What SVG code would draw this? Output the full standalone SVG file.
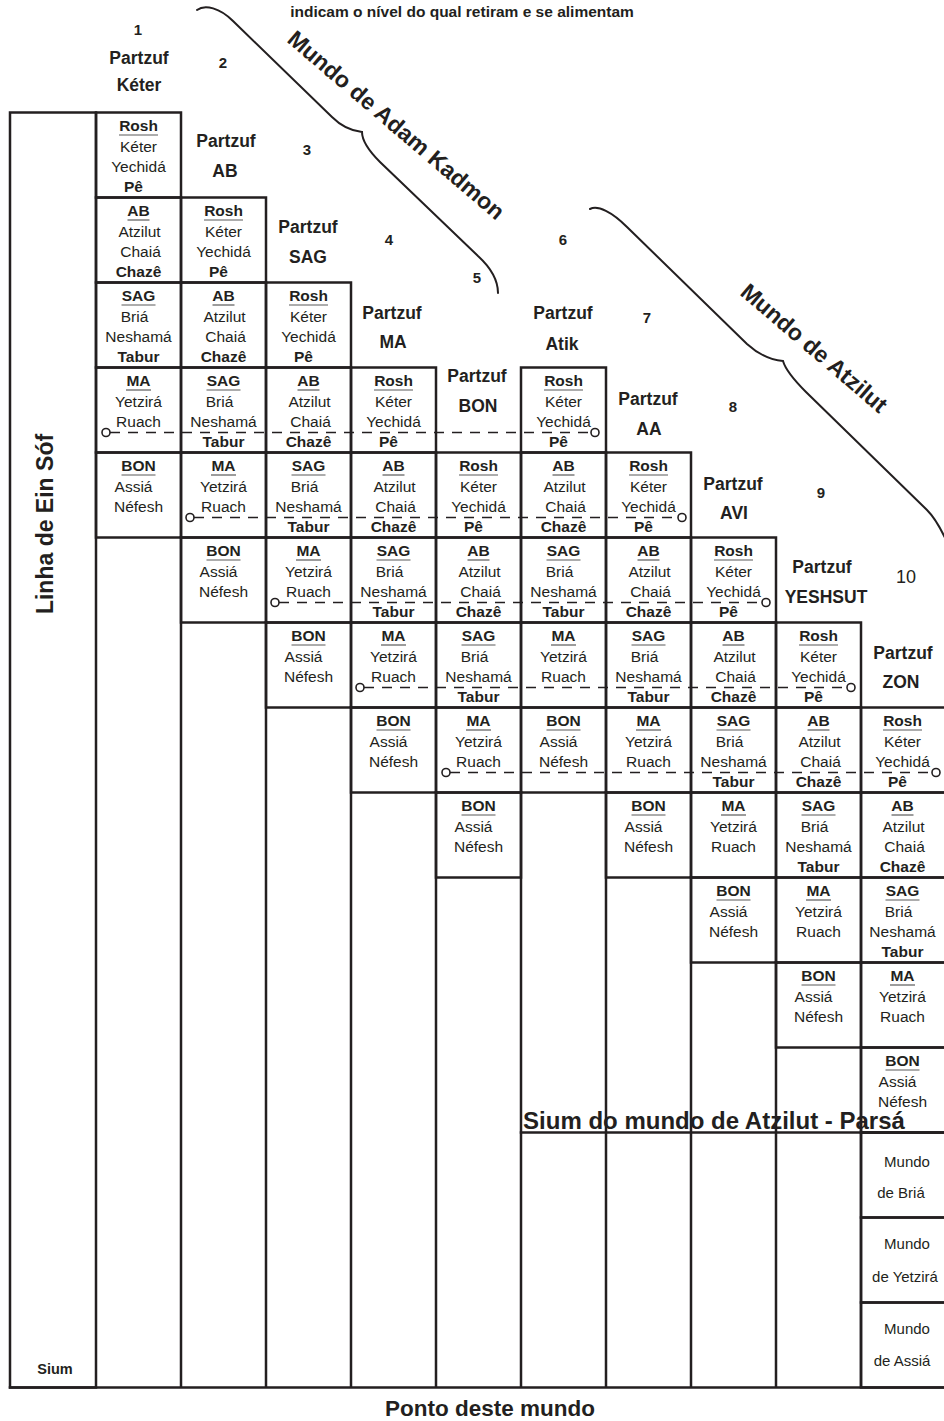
<svg xmlns="http://www.w3.org/2000/svg" width="944" height="1421" viewBox="0 0 944 1421">
<style>
.cell{fill:none;stroke:#231f20;stroke-width:2.5}
.g{fill:none;stroke:#231f20;stroke-width:2.5;stroke-linecap:square}
.ul{fill:none;stroke:#5a5a5a;stroke-width:1.2}
.dash{fill:none;stroke:#231f20;stroke-width:1.7;stroke-dasharray:10 8}
.end{fill:#fff;stroke:#231f20;stroke-width:1.6}
.brace{fill:none;stroke:#231f20;stroke-width:2;stroke-linecap:round}
text{font-family:"Liberation Sans",Arial,Helvetica,sans-serif;font-size:15.5px;fill:#231f20;text-anchor:middle}
.b{font-weight:bold}
.lbl{font-weight:bold;font-size:17.5px}
.num{font-weight:bold;font-size:15px}
.big{font-weight:bold;font-size:23px}
.w{font-size:15px}
</style>
<rect width="944" height="1421" fill="#fff"/>

<!-- heading line -->
<text class="b" x="462" y="17" style="font-size:15.5px">indicam o nível do qual retiram e se alimentam</text>

<!-- braces for the two worlds -->
<g id="braces">
<path class="brace" d="M197,10 C205,4 220,8 233,21 L332,117 C342,127 352,131 362,132 C362,140 368,150 380,162 L478,256 C490,267 498,280 498,293"/>
<text class="big" transform="translate(391,131) rotate(40.5)">Mundo de Adam Kadmon</text>
<path class="brace" d="M590,209 C598,205 612,212 627,227 L747,344 C758,354 770,360 783,361 C785,368 792,378 806,392 L927,510 C935,518 940,527 946,540"/>
<text class="big" transform="translate(809,354) rotate(40.5)">Mundo de Atzilut</text>
</g>

<!-- Ein Sof column, shafts and lower worlds -->
<g id="ein-sof">
<rect class="cell" x="10" y="112.5" width="86" height="1275"/>
<text class="big" transform="translate(53,524) rotate(-90)">Linha de Ein Sóf</text>
<text class="b" x="55" y="1374" style="font-size:14.5px">Sium</text>
</g>
<g id="shafts">
<path class="g" d="M181 537.5V1387.5 M266 622.5V1387.5 M351 707.5V1387.5 M436 792.5V1387.5 M521 792.5V1387.5 M606 792.5V1387.5 M691 877.5V1387.5 M776 962.5V1387.5 M861 1047.5V1387.5 M10 1387.5H944"/>
</g>
<g id="sium-atzilut">
<path class="g" d="M521 1132.5H944"/>
<text class="b" x="714" y="1129" style="font-size:24px">Sium do mundo de Atzilut - Parsá</text>
</g>
<g id="lower-worlds">
<rect class="cell" x="861" y="1132.5" width="85" height="85"/>
<rect class="cell" x="861" y="1217.5" width="85" height="85"/>
<rect class="cell" x="861" y="1302.5" width="85" height="85"/>
<text class="w" x="907" y="1167">Mundo</text><text class="w" x="901" y="1198">de Briá</text>
<text class="w" x="907" y="1249">Mundo</text><text class="w" x="905" y="1282">de Yetzirá</text>
<text class="w" x="907" y="1334">Mundo</text><text class="w" x="902" y="1366">de Assiá</text>
</g>
<text class="b" x="490" y="1416" style="font-size:22.5px">Ponto deste mundo</text>

<!-- Partzuf Keter -->
<g id="partzuf-keter">
<text class="num" x="138" y="35">1</text>
<text class="lbl" x="139" y="64">Partzuf</text><text class="lbl" x="139" y="91">Kéter</text>
<rect class="cell" x="96" y="112.5" width="85" height="85"/><rect class="cell" x="96" y="197.5" width="85" height="85"/><rect class="cell" x="96" y="282.5" width="85" height="85"/><rect class="cell" x="96" y="367.5" width="85" height="85"/><rect class="cell" x="96" y="452.5" width="85" height="85"/>
<text class="b" x="138.5" y="131">Rosh</text><path class="ul" d="M119 135h39"/><text x="138.5" y="152">Kéter</text><text x="138.5" y="172">Yechidá</text><text class="b" x="133.5" y="192">Pê</text>
<text class="b" x="138.5" y="216">AB</text><path class="ul" d="M127.5 220h22"/><text x="139.5" y="237">Atzilut</text><text x="140.5" y="257">Chaiá</text><text class="b" x="138.5" y="277">Chazê</text>
<text class="b" x="138.5" y="301">SAG</text><path class="ul" d="M121.5 305h34"/><text x="134.5" y="322">Briá</text><text x="138.5" y="342">Neshamá</text><text class="b" x="138.5" y="362">Tabur</text>
<text class="b" x="138.5" y="386">MA</text><path class="ul" d="M126 390h25"/><text x="138.5" y="407">Yetzirá</text><text x="138.5" y="427">Ruach</text>
<text class="b" x="138.5" y="471">BON</text><path class="ul" d="M121.5 475h34"/><text x="133.5" y="492">Assiá</text><text x="138.5" y="512">Néfesh</text>
</g>

<!-- Partzuf AB -->
<g id="partzuf-ab">
<text class="num" x="223" y="68">2</text>
<text class="lbl" x="226" y="147">Partzuf</text><text class="lbl" x="225" y="177">AB</text>
<rect class="cell" x="181" y="197.5" width="85" height="85"/><rect class="cell" x="181" y="282.5" width="85" height="85"/><rect class="cell" x="181" y="367.5" width="85" height="85"/><rect class="cell" x="181" y="452.5" width="85" height="85"/><rect class="cell" x="181" y="537.5" width="85" height="85"/>
<text class="b" x="223.5" y="216">Rosh</text><path class="ul" d="M204 220h39"/><text x="223.5" y="237">Kéter</text><text x="223.5" y="257">Yechidá</text><text class="b" x="218.5" y="277">Pê</text>
<text class="b" x="223.5" y="301">AB</text><path class="ul" d="M212.5 305h22"/><text x="224.5" y="322">Atzilut</text><text x="225.5" y="342">Chaiá</text><text class="b" x="223.5" y="362">Chazê</text>
<text class="b" x="223.5" y="386">SAG</text><path class="ul" d="M206.5 390h34"/><text x="219.5" y="407">Briá</text><text x="223.5" y="427">Neshamá</text><text class="b" x="223.5" y="447">Tabur</text>
<text class="b" x="223.5" y="471">MA</text><path class="ul" d="M211 475h25"/><text x="223.5" y="492">Yetzirá</text><text x="223.5" y="512">Ruach</text>
<text class="b" x="223.5" y="556">BON</text><path class="ul" d="M206.5 560h34"/><text x="218.5" y="577">Assiá</text><text x="223.5" y="597">Néfesh</text>
</g>

<!-- Partzuf SAG -->
<g id="partzuf-sag">
<text class="num" x="307" y="155">3</text>
<text class="lbl" x="308" y="233">Partzuf</text><text class="lbl" x="308" y="263">SAG</text>
<rect class="cell" x="266" y="282.5" width="85" height="85"/><rect class="cell" x="266" y="367.5" width="85" height="85"/><rect class="cell" x="266" y="452.5" width="85" height="85"/><rect class="cell" x="266" y="537.5" width="85" height="85"/><rect class="cell" x="266" y="622.5" width="85" height="85"/>
<text class="b" x="308.5" y="301">Rosh</text><path class="ul" d="M289 305h39"/><text x="308.5" y="322">Kéter</text><text x="308.5" y="342">Yechidá</text><text class="b" x="303.5" y="362">Pê</text>
<text class="b" x="308.5" y="386">AB</text><path class="ul" d="M297.5 390h22"/><text x="309.5" y="407">Atzilut</text><text x="310.5" y="427">Chaiá</text><text class="b" x="308.5" y="447">Chazê</text>
<text class="b" x="308.5" y="471">SAG</text><path class="ul" d="M291.5 475h34"/><text x="304.5" y="492">Briá</text><text x="308.5" y="512">Neshamá</text><text class="b" x="308.5" y="532">Tabur</text>
<text class="b" x="308.5" y="556">MA</text><path class="ul" d="M296 560h25"/><text x="308.5" y="577">Yetzirá</text><text x="308.5" y="597">Ruach</text>
<text class="b" x="308.5" y="641">BON</text><path class="ul" d="M291.5 645h34"/><text x="303.5" y="662">Assiá</text><text x="308.5" y="682">Néfesh</text>
</g>

<!-- Partzuf MA -->
<g id="partzuf-ma">
<text class="num" x="389" y="245">4</text>
<text class="lbl" x="392" y="319">Partzuf</text><text class="lbl" x="393" y="348">MA</text>
<rect class="cell" x="351" y="367.5" width="85" height="85"/><rect class="cell" x="351" y="452.5" width="85" height="85"/><rect class="cell" x="351" y="537.5" width="85" height="85"/><rect class="cell" x="351" y="622.5" width="85" height="85"/><rect class="cell" x="351" y="707.5" width="85" height="85"/>
<text class="b" x="393.5" y="386">Rosh</text><path class="ul" d="M374 390h39"/><text x="393.5" y="407">Kéter</text><text x="393.5" y="427">Yechidá</text><text class="b" x="388.5" y="447">Pê</text>
<text class="b" x="393.5" y="471">AB</text><path class="ul" d="M382.5 475h22"/><text x="394.5" y="492">Atzilut</text><text x="395.5" y="512">Chaiá</text><text class="b" x="393.5" y="532">Chazê</text>
<text class="b" x="393.5" y="556">SAG</text><path class="ul" d="M376.5 560h34"/><text x="389.5" y="577">Briá</text><text x="393.5" y="597">Neshamá</text><text class="b" x="393.5" y="617">Tabur</text>
<text class="b" x="393.5" y="641">MA</text><path class="ul" d="M381 645h25"/><text x="393.5" y="662">Yetzirá</text><text x="393.5" y="682">Ruach</text>
<text class="b" x="393.5" y="726">BON</text><path class="ul" d="M376.5 730h34"/><text x="388.5" y="747">Assiá</text><text x="393.5" y="767">Néfesh</text>
</g>

<!-- Partzuf BON -->
<g id="partzuf-bon">
<text class="num" x="477" y="283">5</text>
<text class="lbl" x="477" y="382">Partzuf</text><text class="lbl" x="478" y="412">BON</text>
<rect class="cell" x="436" y="452.5" width="85" height="85"/><rect class="cell" x="436" y="537.5" width="85" height="85"/><rect class="cell" x="436" y="622.5" width="85" height="85"/><rect class="cell" x="436" y="707.5" width="85" height="85"/><rect class="cell" x="436" y="792.5" width="85" height="85"/>
<text class="b" x="478.5" y="471">Rosh</text><path class="ul" d="M459 475h39"/><text x="478.5" y="492">Kéter</text><text x="478.5" y="512">Yechidá</text><text class="b" x="473.5" y="532">Pê</text>
<text class="b" x="478.5" y="556">AB</text><path class="ul" d="M467.5 560h22"/><text x="479.5" y="577">Atzilut</text><text x="480.5" y="597">Chaiá</text><text class="b" x="478.5" y="617">Chazê</text>
<text class="b" x="478.5" y="641">SAG</text><path class="ul" d="M461.5 645h34"/><text x="474.5" y="662">Briá</text><text x="478.5" y="682">Neshamá</text><text class="b" x="478.5" y="702">Tabur</text>
<text class="b" x="478.5" y="726">MA</text><path class="ul" d="M466 730h25"/><text x="478.5" y="747">Yetzirá</text><text x="478.5" y="767">Ruach</text>
<text class="b" x="478.5" y="811">BON</text><path class="ul" d="M461.5 815h34"/><text x="473.5" y="832">Assiá</text><text x="478.5" y="852">Néfesh</text>
</g>

<!-- Partzuf Atik -->
<g id="partzuf-atik">
<text class="num" x="563" y="245">6</text>
<text class="lbl" x="563" y="319">Partzuf</text><text class="lbl" x="562" y="350">Atik</text>
<rect class="cell" x="521" y="367.5" width="85" height="85"/><rect class="cell" x="521" y="452.5" width="85" height="85"/><rect class="cell" x="521" y="537.5" width="85" height="85"/><rect class="cell" x="521" y="622.5" width="85" height="85"/><rect class="cell" x="521" y="707.5" width="85" height="85"/>
<text class="b" x="563.5" y="386">Rosh</text><path class="ul" d="M544 390h39"/><text x="563.5" y="407">Kéter</text><text x="563.5" y="427">Yechidá</text><text class="b" x="558.5" y="447">Pê</text>
<text class="b" x="563.5" y="471">AB</text><path class="ul" d="M552.5 475h22"/><text x="564.5" y="492">Atzilut</text><text x="565.5" y="512">Chaiá</text><text class="b" x="563.5" y="532">Chazê</text>
<text class="b" x="563.5" y="556">SAG</text><path class="ul" d="M546.5 560h34"/><text x="559.5" y="577">Briá</text><text x="563.5" y="597">Neshamá</text><text class="b" x="563.5" y="617">Tabur</text>
<text class="b" x="563.5" y="641">MA</text><path class="ul" d="M551 645h25"/><text x="563.5" y="662">Yetzirá</text><text x="563.5" y="682">Ruach</text>
<text class="b" x="563.5" y="726">BON</text><path class="ul" d="M546.5 730h34"/><text x="558.5" y="747">Assiá</text><text x="563.5" y="767">Néfesh</text>
</g>

<!-- Partzuf AA -->
<g id="partzuf-aa">
<text class="num" x="647" y="323">7</text>
<text class="lbl" x="648" y="405">Partzuf</text><text class="lbl" x="649" y="435">AA</text>
<rect class="cell" x="606" y="452.5" width="85" height="85"/><rect class="cell" x="606" y="537.5" width="85" height="85"/><rect class="cell" x="606" y="622.5" width="85" height="85"/><rect class="cell" x="606" y="707.5" width="85" height="85"/><rect class="cell" x="606" y="792.5" width="85" height="85"/>
<text class="b" x="648.5" y="471">Rosh</text><path class="ul" d="M629 475h39"/><text x="648.5" y="492">Kéter</text><text x="648.5" y="512">Yechidá</text><text class="b" x="643.5" y="532">Pê</text>
<text class="b" x="648.5" y="556">AB</text><path class="ul" d="M637.5 560h22"/><text x="649.5" y="577">Atzilut</text><text x="650.5" y="597">Chaiá</text><text class="b" x="648.5" y="617">Chazê</text>
<text class="b" x="648.5" y="641">SAG</text><path class="ul" d="M631.5 645h34"/><text x="644.5" y="662">Briá</text><text x="648.5" y="682">Neshamá</text><text class="b" x="648.5" y="702">Tabur</text>
<text class="b" x="648.5" y="726">MA</text><path class="ul" d="M636 730h25"/><text x="648.5" y="747">Yetzirá</text><text x="648.5" y="767">Ruach</text>
<text class="b" x="648.5" y="811">BON</text><path class="ul" d="M631.5 815h34"/><text x="643.5" y="832">Assiá</text><text x="648.5" y="852">Néfesh</text>
</g>

<!-- Partzuf AVI -->
<g id="partzuf-avi">
<text class="num" x="733" y="412">8</text>
<text class="lbl" x="733" y="490">Partzuf</text><text class="lbl" x="734" y="519">AVI</text>
<rect class="cell" x="691" y="537.5" width="85" height="85"/><rect class="cell" x="691" y="622.5" width="85" height="85"/><rect class="cell" x="691" y="707.5" width="85" height="85"/><rect class="cell" x="691" y="792.5" width="85" height="85"/><rect class="cell" x="691" y="877.5" width="85" height="85"/>
<text class="b" x="733.5" y="556">Rosh</text><path class="ul" d="M714 560h39"/><text x="733.5" y="577">Kéter</text><text x="733.5" y="597">Yechidá</text><text class="b" x="728.5" y="617">Pê</text>
<text class="b" x="733.5" y="641">AB</text><path class="ul" d="M722.5 645h22"/><text x="734.5" y="662">Atzilut</text><text x="735.5" y="682">Chaiá</text><text class="b" x="733.5" y="702">Chazê</text>
<text class="b" x="733.5" y="726">SAG</text><path class="ul" d="M716.5 730h34"/><text x="729.5" y="747">Briá</text><text x="733.5" y="767">Neshamá</text><text class="b" x="733.5" y="787">Tabur</text>
<text class="b" x="733.5" y="811">MA</text><path class="ul" d="M721 815h25"/><text x="733.5" y="832">Yetzirá</text><text x="733.5" y="852">Ruach</text>
<text class="b" x="733.5" y="896">BON</text><path class="ul" d="M716.5 900h34"/><text x="728.5" y="917">Assiá</text><text x="733.5" y="937">Néfesh</text>
</g>

<!-- Partzuf YESHSUT -->
<g id="partzuf-yeshsut">
<text class="num" x="821" y="498">9</text>
<text class="lbl" x="822" y="573">Partzuf</text><text class="lbl" x="826" y="603">YESHSUT</text>
<rect class="cell" x="776" y="622.5" width="85" height="85"/><rect class="cell" x="776" y="707.5" width="85" height="85"/><rect class="cell" x="776" y="792.5" width="85" height="85"/><rect class="cell" x="776" y="877.5" width="85" height="85"/><rect class="cell" x="776" y="962.5" width="85" height="85"/>
<text class="b" x="818.5" y="641">Rosh</text><path class="ul" d="M799 645h39"/><text x="818.5" y="662">Kéter</text><text x="818.5" y="682">Yechidá</text><text class="b" x="813.5" y="702">Pê</text>
<text class="b" x="818.5" y="726">AB</text><path class="ul" d="M807.5 730h22"/><text x="819.5" y="747">Atzilut</text><text x="820.5" y="767">Chaiá</text><text class="b" x="818.5" y="787">Chazê</text>
<text class="b" x="818.5" y="811">SAG</text><path class="ul" d="M801.5 815h34"/><text x="814.5" y="832">Briá</text><text x="818.5" y="852">Neshamá</text><text class="b" x="818.5" y="872">Tabur</text>
<text class="b" x="818.5" y="896">MA</text><path class="ul" d="M806 900h25"/><text x="818.5" y="917">Yetzirá</text><text x="818.5" y="937">Ruach</text>
<text class="b" x="818.5" y="981">BON</text><path class="ul" d="M801.5 985h34"/><text x="813.5" y="1002">Assiá</text><text x="818.5" y="1022">Néfesh</text>
</g>

<!-- Partzuf ZON -->
<g id="partzuf-zon">
<text x="906" y="583" style="font-size:18px">10</text>
<text class="lbl" x="903" y="659">Partzuf</text><text class="lbl" x="901" y="688">ZON</text>
<rect class="cell" x="861" y="707.5" width="85" height="85"/><rect class="cell" x="861" y="792.5" width="85" height="85"/><rect class="cell" x="861" y="877.5" width="85" height="85"/><rect class="cell" x="861" y="962.5" width="85" height="85"/><rect class="cell" x="861" y="1047.5" width="85" height="85"/>
<text class="b" x="902.5" y="726">Rosh</text><path class="ul" d="M883 730h39"/><text x="902.5" y="747">Kéter</text><text x="902.5" y="767">Yechidá</text><text class="b" x="897.5" y="787">Pê</text>
<text class="b" x="902.5" y="811">AB</text><path class="ul" d="M891.5 815h22"/><text x="903.5" y="832">Atzilut</text><text x="904.5" y="852">Chaiá</text><text class="b" x="902.5" y="872">Chazê</text>
<text class="b" x="902.5" y="896">SAG</text><path class="ul" d="M885.5 900h34"/><text x="898.5" y="917">Briá</text><text x="902.5" y="937">Neshamá</text><text class="b" x="902.5" y="957">Tabur</text>
<text class="b" x="902.5" y="981">MA</text><path class="ul" d="M890 985h25"/><text x="902.5" y="1002">Yetzirá</text><text x="902.5" y="1022">Ruach</text>
<text class="b" x="902.5" y="1066">BON</text><path class="ul" d="M885.5 1070h34"/><text x="897.5" y="1087">Assiá</text><text x="902.5" y="1107">Néfesh</text>
</g>

<!-- dashed links between the levels, with end rings -->
<g id="connectors">
<path class="dash" d="M110 432.5H591"/><circle class="end" cx="106" cy="432.5" r="4"/><circle class="end" cx="595" cy="432.5" r="4"/>
<path class="dash" d="M194 517.5H678"/><circle class="end" cx="190" cy="517.5" r="4"/><circle class="end" cx="682" cy="517.5" r="4"/>
<path class="dash" d="M279 602.5H762"/><circle class="end" cx="275" cy="602.5" r="4"/><circle class="end" cx="766" cy="602.5" r="4"/>
<path class="dash" d="M364 687.5H847"/><circle class="end" cx="360" cy="687.5" r="4"/><circle class="end" cx="851" cy="687.5" r="4"/>
<path class="dash" d="M450 772.5H932"/><circle class="end" cx="446" cy="772.5" r="4"/><circle class="end" cx="936" cy="772.5" r="4"/>
</g>
</svg>
